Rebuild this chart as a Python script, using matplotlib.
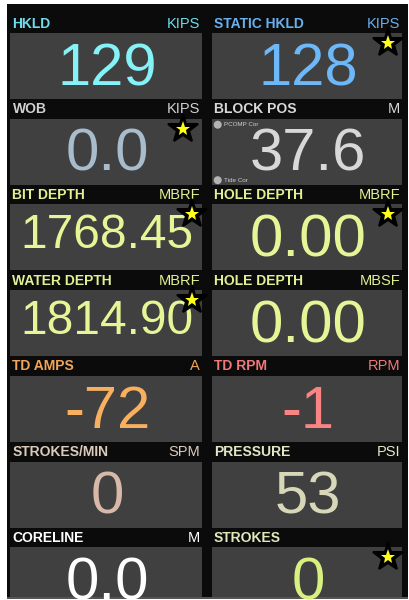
import matplotlib
matplotlib.use("Agg")
import matplotlib.pyplot as plt
from matplotlib.patches import Rectangle, Circle

# ---- data ----
labels = ["HKLD", "STATIC HKLD", "WOB", "BLOCK POS", "BIT DEPTH", "HOLE DEPTH",
          "WATER DEPTH", "HOLE DEPTH", "TD AMPS", "TD RPM", "STROKES/MIN",
          "PRESSURE", "CORELINE", "STROKES"]
units = ["KIPS", "KIPS", "KIPS", "M", "MBRF", "MBRF", "MBRF", "MBSF", "A", "RPM",
         "SPM", "PSI", "M", ""]
values = ["129", "128", "0.0", "37.6", "1768.45", "0.00", "1814.90", "0.00",
          "-72", "-1", "0", "53", "0.0", "0"]
starred = [False, True, True, False, True, True, True, False, False, False,
           False, False, False, True]
label_colors = ["#6fdcec", "#6ab0ec", "#d0d0d0", "#d8d8d8", "#e2f092", "#e2f092",
                "#e2f092", "#e2f092", "#f2a458", "#f07878", "#dccbbb", "#e2e8c4",
                "#ffffff", "#e2e8b8"]
value_colors = ["#84f2f6", "#6cb8f8", "#a8bccc", "#d8d8d8", "#e6f696", "#e6f696",
                "#e6f696", "#e6f696", "#f8b060", "#f88484", "#d8b8a8", "#d8d8b8",
                "#ffffff", "#d8f080"]

FONT = "Liberation Sans"

fig = plt.figure(figsize=(4.1, 6.0), dpi=100)
fig.patch.set_facecolor("white")
ax = fig.add_axes([0, 0, 1, 1])
ax.set_xlim(0, 410)
ax.set_ylim(600, 0)
ax.axis("off")

# frame
ax.add_patch(Rectangle((7, 4), 401, 594, facecolor="#0b0b0b", edgecolor="none", zorder=0))
ax.add_patch(Rectangle((7, 597), 401, 1.5, facecolor="#555555", edgecolor="none", zorder=0))

col_x = [(10.5, 202), (212, 402.5)]
row_top0 = 33.0
row_pitch = 85.7
box_h = 66

for i, (lab, unit, val) in enumerate(zip(labels, units, values)):
    r, c = divmod(i, 2)
    x0, x1 = col_x[c]
    top = row_top0 + r * row_pitch
    h = min(box_h, 597 - top)
    ax.add_patch(Rectangle((x0, top), x1 - x0, h, facecolor="#404040",
                           edgecolor="none", zorder=1))
    # header
    ax.text(x0 + 2, top - 5.5, lab, fontsize=10, fontweight="bold", family=FONT,
            color=label_colors[i], ha="left", va="baseline", zorder=3)
    if unit:
        ax.text(x1 - 2, top - 5.5, unit, fontsize=10.5, family=FONT,
                color=label_colors[i], ha="right", va="baseline", zorder=3)
    # value
    long_val = len(val) > 5
    fs = 34.5 if long_val else 43
    base = top + (44 if long_val else 52)
    t = ax.text((x0 + x1) / 2 + 1, base, val, fontsize=fs, family=FONT,
                color=value_colors[i], ha="center", va="baseline", zorder=2)
    t.set_clip_path(Rectangle((7, 4), 401, 593.5, transform=ax.transData))
    # star
    if starred[i]:
        if c == 0:
            sx = x1 - (19 if r == 1 else 10)
        else:
            sx = x1 - 14
        sy = top + 10
        ax.plot([sx], [sy], marker="*", ms=22, color="black", mec="black",
                mew=1.5, zorder=5, linestyle="none")
        ax.plot([sx], [sy], marker="*", ms=11, color="#ffff1a", mec="#ffff1a",
                mew=0, zorder=6, linestyle="none")
    # block pos extras
    if lab == "BLOCK POS":
        for yy, txt in [(top + 6, "PCOMP Cor"), (top + 61.5, "Tide Cor")]:
            ax.add_patch(Circle((x0 + 5.7, yy), 4, facecolor="#b4b4b4",
                                edgecolor="none", zorder=3))
            ax.text(x0 + 12.5, yy, txt, fontsize=4.5, family=FONT,
                    color="#cfcfcf", ha="left", va="center", zorder=3)

fig.savefig("out.png", dpi=100, facecolor=fig.get_facecolor())
